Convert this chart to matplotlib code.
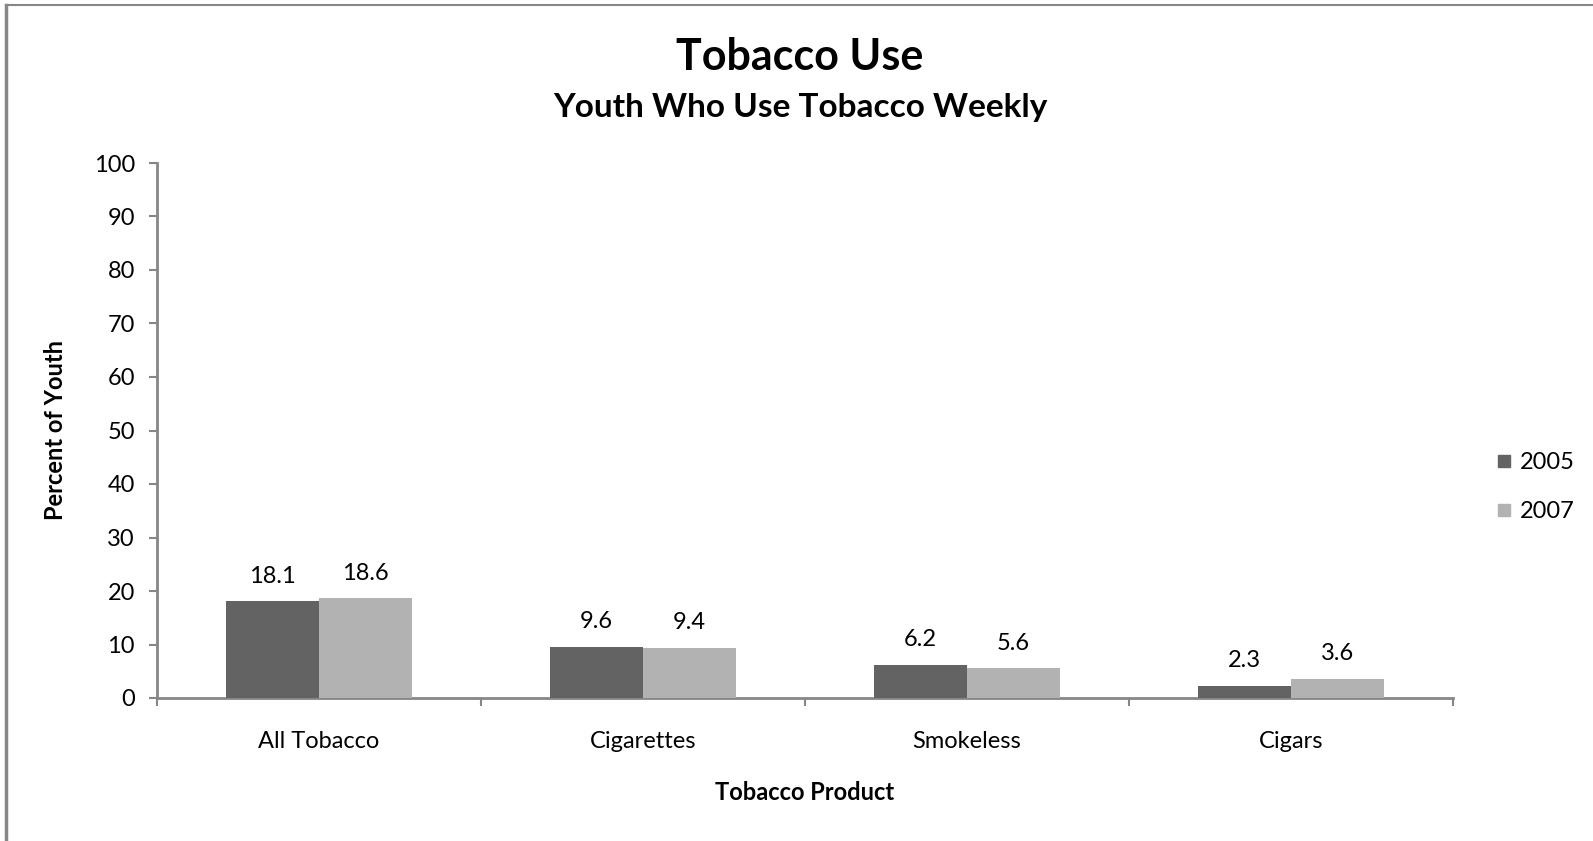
import matplotlib

matplotlib.use("Agg")
import matplotlib.pyplot as plt
import numpy as np
from matplotlib.lines import Line2D

plt.rcParams["font.family"] = ["Lato", "DejaVu Sans"]

CATEGORIES = ["All Tobacco", "Cigarettes", "Smokeless", "Cigars"]
YEARS = ["2005", "2007"]
VALUES_2005 = [18.1, 9.6, 6.2, 2.3]
VALUES_2007 = [18.6, 9.4, 5.6, 3.6]
Y_TICKS = [0, 10, 20, 30, 40, 50, 60, 70, 80, 90, 100]

COLORS = ["#636363", "#b2b2b2"]
AXIS_COLOR = "#868686"
W, H = 1593, 841

fig = plt.figure(figsize=(W / 100, H / 100), dpi=100)
fig.patch.set_facecolor("white")

# axes box in pixels: left 157, right 1453, top 163, bottom 698
ax = fig.add_axes([157 / W, 1 - 698 / H, (1453 - 157) / W, (698 - 163) / H])

x = np.arange(len(CATEGORIES))
bar_w = 1 / 3.5
series = [VALUES_2005, VALUES_2007]
for i, (vals, year, color) in enumerate(zip(series, YEARS, COLORS)):
    offset = (i - 0.5) * bar_w
    ax.bar(x + offset, vals, width=bar_w, color=color, label=year, zorder=3)
    for xi, v in zip(x + offset, vals):
        ax.annotate(f"{v:.1f}", (xi, v), xytext=(0, 18), textcoords="offset points",
                    ha="center", va="center", fontsize=17, color="black")

ax.set_xlim(-0.5, len(CATEGORIES) - 0.5)
ax.set_ylim(0, 100)
ax.set_yticks(Y_TICKS)
ax.set_yticklabels([str(t) for t in Y_TICKS], fontsize=17)

ax.set_xticks(np.arange(len(CATEGORIES) + 1) - 0.5)
ax.set_xticklabels([])
ax.set_xticks(x, minor=True)
ax.set_xticklabels(CATEGORIES, minor=True, fontsize=17)
ax.tick_params(axis="x", which="minor", length=0, pad=23.5)
ax.tick_params(axis="x", which="major", direction="out", length=6, color=AXIS_COLOR, width=1.5)
ax.tick_params(axis="y", direction="out", length=6, color=AXIS_COLOR, width=1.5, pad=10)

for side in ["top", "right"]:
    ax.spines[side].set_visible(False)
for side in ["left", "bottom"]:
    ax.spines[side].set_color(AXIS_COLOR)
    ax.spines[side].set_linewidth(2)

fig.text(56 / W, 1 - 430 / H, "Percent of Youth", rotation=90, ha="center", va="center",
         fontsize=17, fontweight="bold")
fig.text(805 / W, 1 - 792 / H, "Tobacco Product", ha="center", va="center",
         fontsize=17, fontweight="bold")

fig.text(800 / W, 1 - 57 / H, "Tobacco Use", ha="center", va="center",
         fontsize=31, fontweight="bold")
fig.text(800 / W, 1 - 107 / H, "Youth Who Use Tobacco Weekly", ha="center", va="center",
         fontsize=24, fontweight="bold")

handles = [Line2D([], [], marker="s", linestyle="none", markersize=9,
                  markerfacecolor=c, markeredgecolor=c) for c in COLORS]
fig.legend(handles, YEARS, loc="center left", bbox_to_anchor=(1471 / W, 1 - 487 / H),
           frameon=False, fontsize=17, handletextpad=0.15, labelspacing=1.2,
           handlelength=1.0)

# outer frame lines (left and top)
fig.add_artist(Line2D([5.5 / W, 5.5 / W], [0, 1 - 5 / H], color="#878787", linewidth=2.5,
                      transform=fig.transFigure))
fig.add_artist(Line2D([5.5 / W, 1], [1 - 5 / H, 1 - 5 / H], color="#878787", linewidth=1.5,
                      transform=fig.transFigure))

fig.savefig("out.png", dpi=100)
